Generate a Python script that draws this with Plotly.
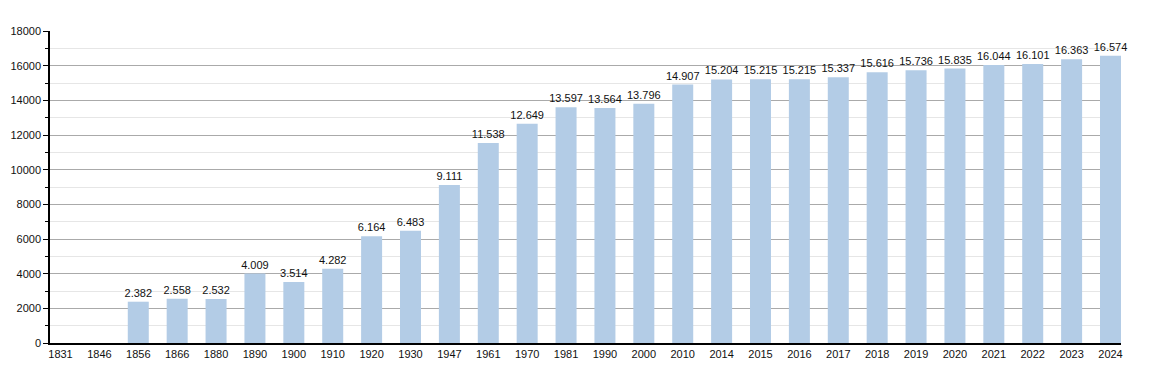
import plotly.graph_objects as go

years = ["1831", "1846", "1856", "1866", "1880", "1890", "1900", "1910", "1920", "1930",
         "1947", "1961", "1970", "1981", "1990", "2000", "2010", "2014", "2015", "2016",
         "2017", "2018", "2019", "2020", "2021", "2022", "2023", "2024"]
population = [None, None, 2382, 2558, 2532, 4009, 3514, 4282, 6164, 6483,
              9111, 11538, 12649, 13597, 13564, 13796, 14907, 15204, 15215, 15215,
              15337, 15616, 15736, 15835, 16044, 16101, 16363, 16574]

labels = ["" if v is None else f"{v:,}".replace(",", ".") for v in population]

fig = go.Figure(go.Bar(
    x=years, y=population, text=labels, textposition="outside",
    textfont=dict(family="Liberation Sans, Arial, sans-serif", size=11, color="#111"),
    constraintext="none",
    marker=dict(color="#b3cce6", line=dict(width=0)),
    cliponaxis=False,
))

fig.update_layout(
    width=1150, height=373,
    margin=dict(l=50, r=29, t=31, b=30, autoexpand=False),
    plot_bgcolor="white", paper_bgcolor="white",
    bargap=0.46, showlegend=False,
    font=dict(family="Liberation Sans, Arial, sans-serif", size=11, color="#111"),
    xaxis=dict(type="category", range=[-0.27, 27.27], showline=True, linecolor="black",
               linewidth=1.5, ticks="", showgrid=False, tickfont=dict(size=11),
               automargin=False),
    yaxis=dict(range=[0, 18000], dtick=2000, tickformat="d", showline=True,
               linecolor="black", linewidth=1.5, ticks="outside", ticklen=5,
               tickcolor="black", gridcolor="#aaaaaa", gridwidth=1, zeroline=False,
               minor=dict(dtick=1000, ticks="outside", ticklen=3, tickcolor="black",
                          showgrid=True, gridcolor="#e6e6e6", gridwidth=1),
               tickfont=dict(size=11), automargin=False),
)

fig.write_html("out.html", config={"displayModeBar": False},
               post_script="document.body.style.margin='0';document.body.style.overflow='hidden';")
